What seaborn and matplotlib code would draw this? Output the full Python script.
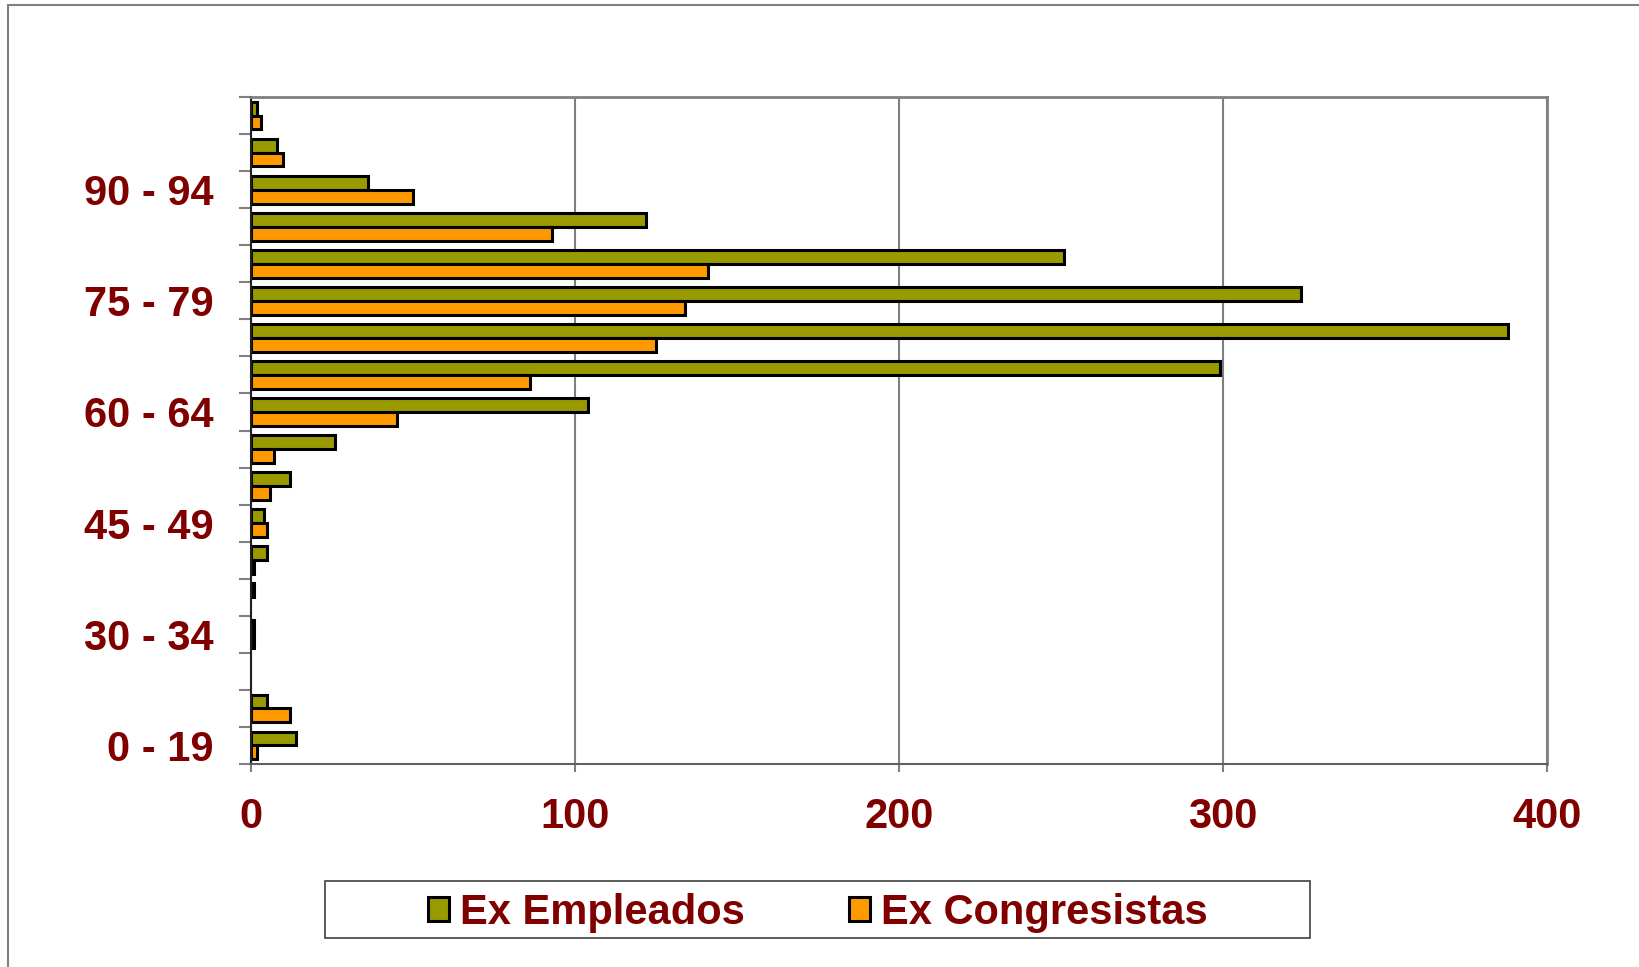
import numpy as np
import pandas as pd
import matplotlib
matplotlib.use("Agg")
import matplotlib.pyplot as plt
import seaborn as sns
from matplotlib.patches import Rectangle, Patch

# ---- data ----
categories = ["0 - 19", "20 - 24", "25 - 29", "30 - 34", "35 - 39", "40 - 44",
              "45 - 49", "50 - 54", "55 - 59", "60 - 64", "65 - 69", "70 - 74",
              "75 - 79", "80 - 84", "85 - 89", "90 - 94", "95 - 99", "100 +"]
ex_empleados = [14, 5, 0, 1, 1, 5, 4, 12, 26, 104, 299, 388, 324, 251, 122, 36, 8, 2]
ex_congresistas = [2, 12, 0, 1, 0, 1, 5, 6, 7, 45, 86, 125, 134, 141, 93, 50, 10, 3]
series_names = ["Ex Empleados", "Ex Congresistas"]
xticks = [0, 100, 200, 300, 400]
label_every = 3

colors = ["#999900", "#FF9900"]
text_color = "#800000"

sns.set_style("white")
plt.rcParams['font.family'] = ['Liberation Sans', 'DejaVu Sans']
plt.rcParams['font.weight'] = 'bold'

n = len(categories)
df = pd.DataFrame({
    "Grupo": categories * 2,
    "Valor": ex_empleados + ex_congresistas,
    "Serie": [series_names[0]] * n + [series_names[1]] * n,
})
order = categories[::-1]

fig = plt.figure(figsize=(16.39, 9.67), dpi=100)
ax = fig.add_axes([251 / 1639, 1 - 764 / 967, (1547 - 251) / 1639, (764 - 97) / 967])

sns.barplot(data=df, x="Valor", y="Grupo", hue="Serie", order=order,
            hue_order=series_names, palette=colors, orient="h", width=0.75,
            edgecolor="black", linewidth=2.2, saturation=1, ax=ax,
            legend=False, errorbar=None)

for p in ax.patches:
    if p.get_width() == 0:
        p.set_visible(False)

# y axis: ticks at category boundaries, labels every third category
ax.set_ylim(n - 0.5, -0.5)
ax.set_yticks(np.arange(-0.5, n, 1))
ax.set_yticklabels([])
lab_idx = [i for i in range(n) if i % label_every == 0]
ax.set_yticks([n - 1 - i for i in lab_idx], minor=True)
ax.set_yticklabels([categories[i] for i in lab_idx], minor=True)
ax.tick_params(axis='y', which='major', left=True, length=9, width=1.5, color='#808080')
ax.tick_params(axis='y', which='minor', left=True, length=0, pad=27,
               labelsize=30, labelcolor=text_color)
for t in ax.get_yticklabels(minor=True):
    t.set_fontweight('bold')

ax.set_xlim(0, 400)
ax.set_xticks(xticks)
ax.set_xticklabels([str(v) for v in xticks])
ax.tick_params(axis='x', bottom=True, length=6, width=1.5, color='#808080',
               pad=18, labelsize=30, labelcolor=text_color)
for t in ax.get_xticklabels():
    t.set_fontweight('bold')

ax.set_xlabel("")
ax.set_ylabel("")
ax.grid(axis='x', color='#808080', lw=1.5)
ax.grid(axis='y', visible=False)
ax.set_axisbelow(True)

ax.spines['left'].set_color('#202020')
ax.spines['left'].set_linewidth(1.5)
ax.spines['bottom'].set_color('#606060')
ax.spines['bottom'].set_linewidth(1.5)
for s in ['top', 'right']:
    ax.spines[s].set_color('#808080')
    ax.spines[s].set_linewidth(2)

# figure border
fig.patches.append(Rectangle((8 / 1639, -0.1), 1.2, 1 - 5 / 967 + 0.1,
                             transform=fig.transFigure, fill=False,
                             edgecolor='#808080', lw=1.5))
# legend frame
fig.patches.append(Rectangle((325 / 1639, 1 - 938 / 967), (1310 - 325) / 1639,
                             (938 - 881) / 967, transform=fig.transFigure,
                             fill=False, edgecolor='#404040', lw=1.2))

handles = [Patch(facecolor=c, edgecolor='black', lw=2.2) for c in colors]
fig.legend(handles, series_names, loc='center',
           bbox_to_anchor=(818 / 1639, 1 - 913 / 967), ncol=2, frameon=False,
           prop={'size': 30, 'weight': 'bold'}, handlelength=0.5,
           handleheight=0.5, handletextpad=0.26, columnspacing=2.5,
           labelcolor=text_color)

fig.savefig("out.png", dpi=100)
